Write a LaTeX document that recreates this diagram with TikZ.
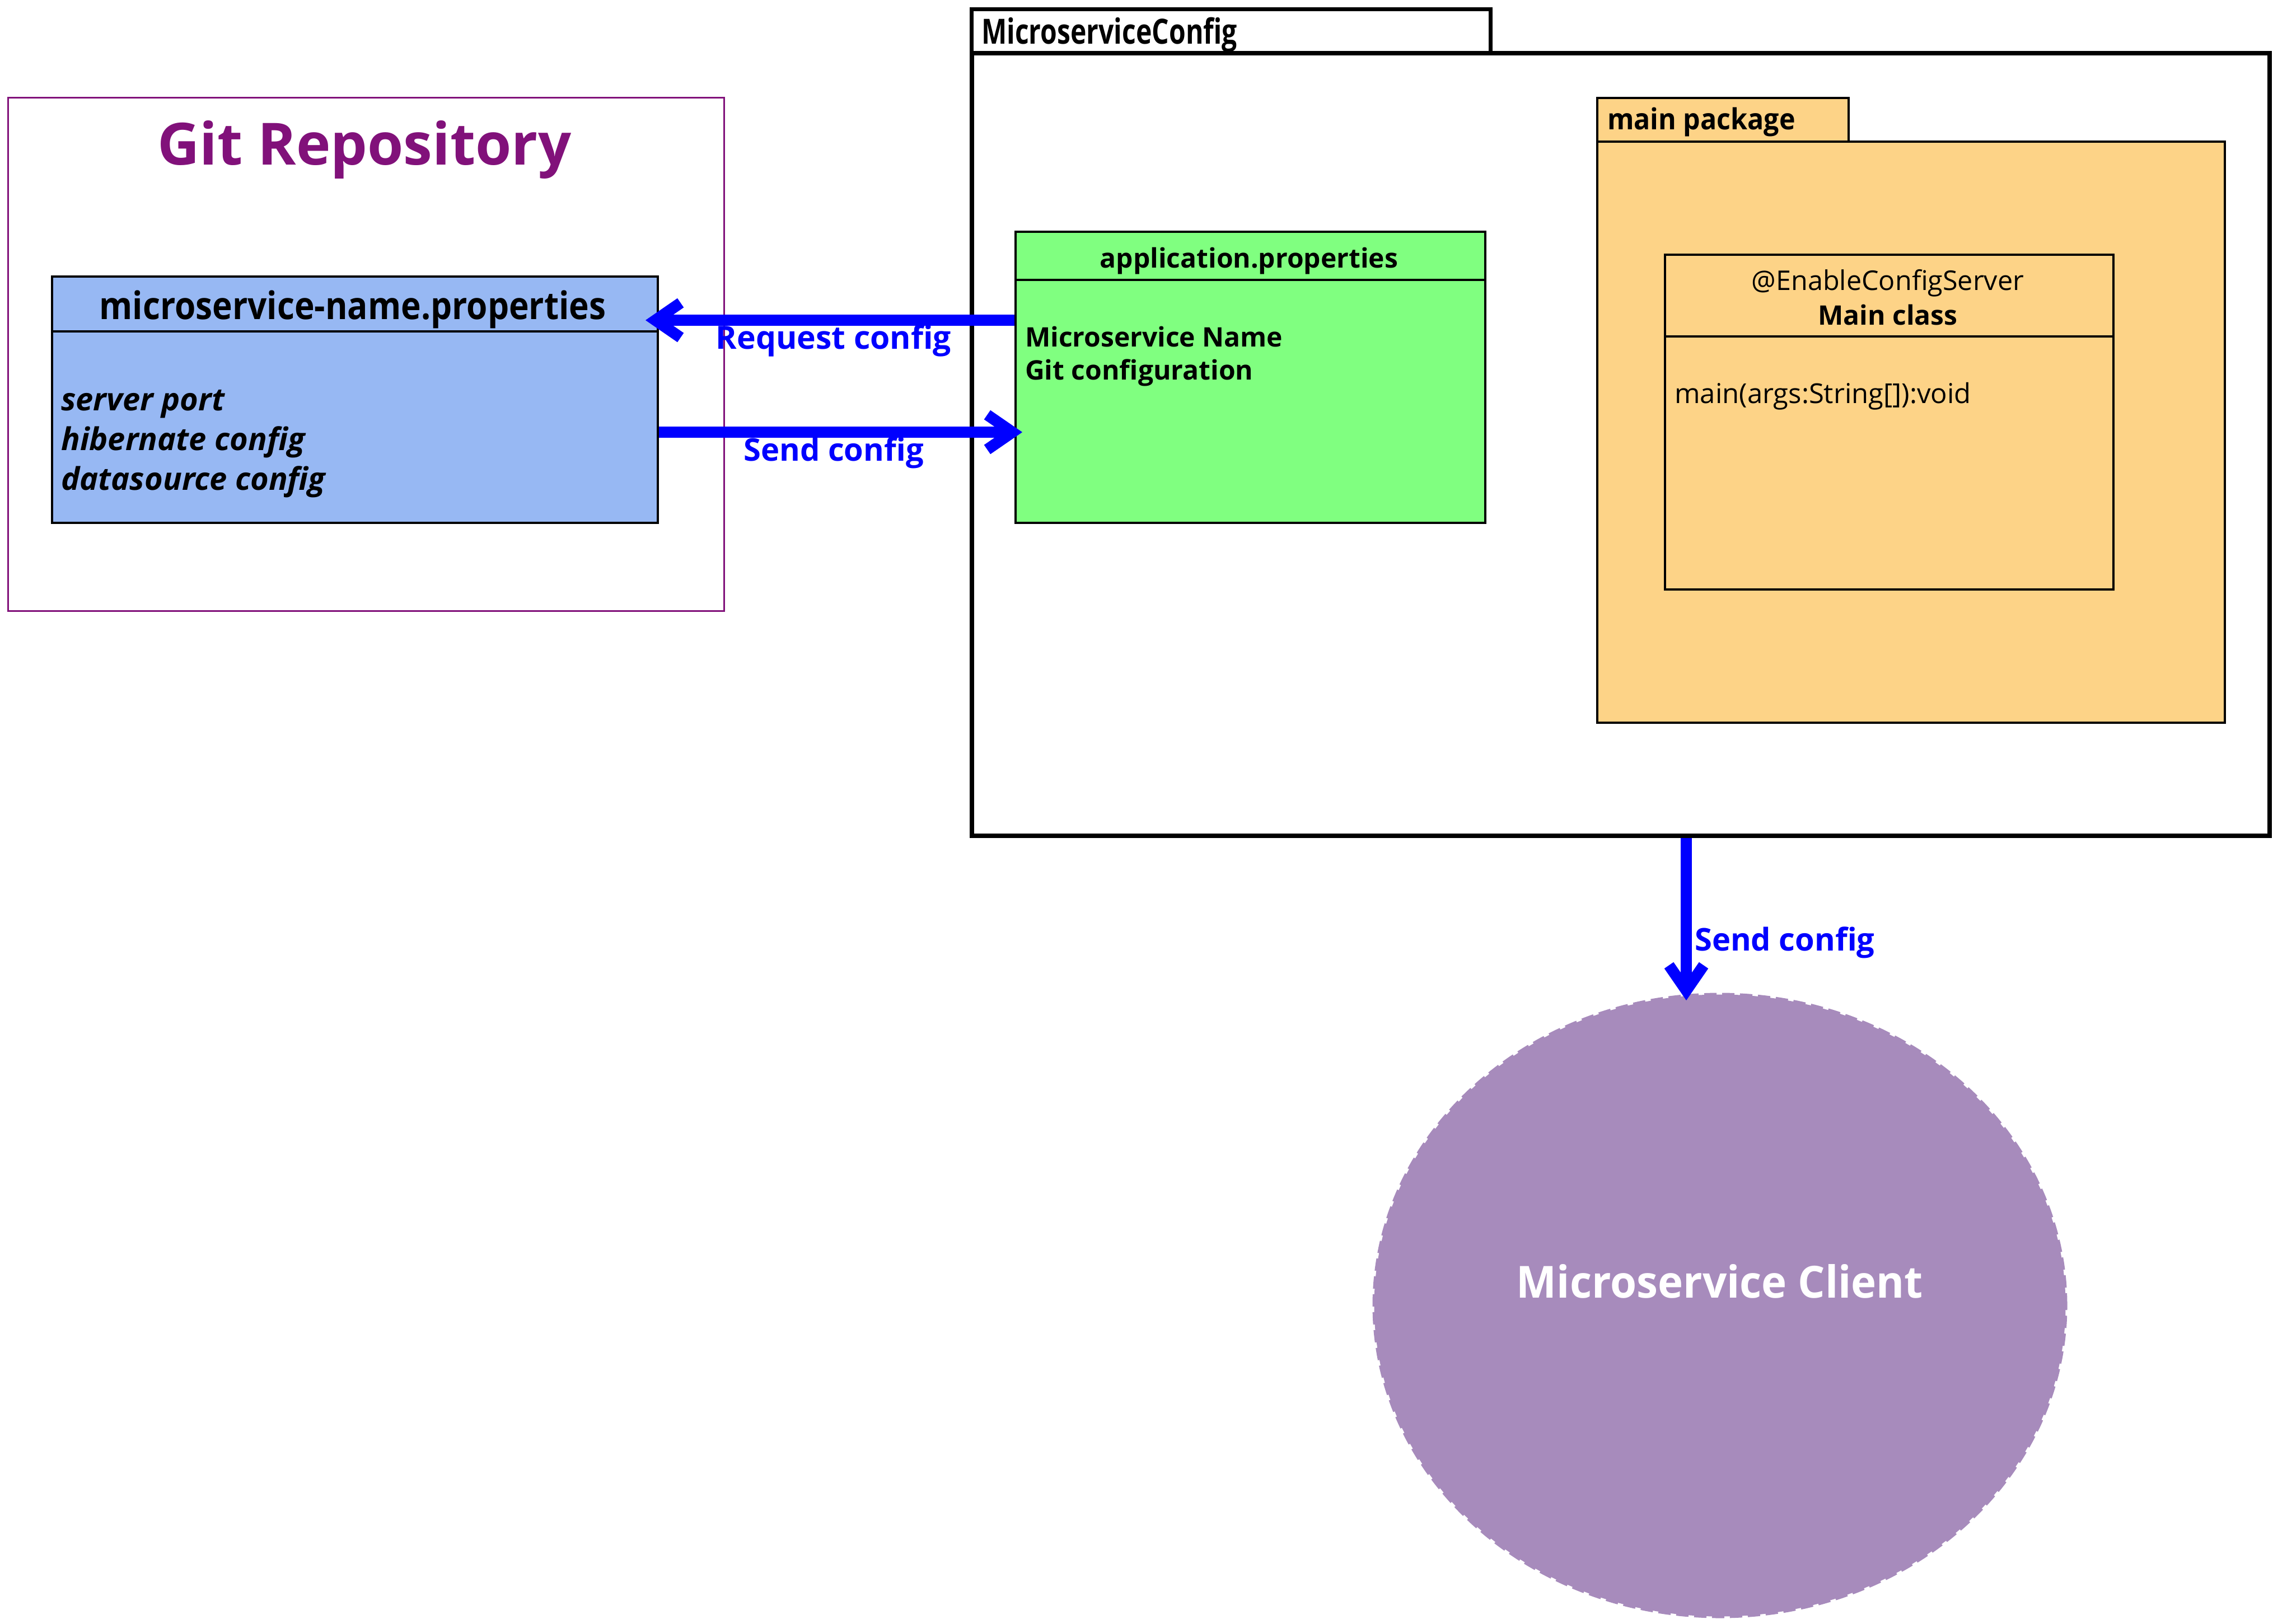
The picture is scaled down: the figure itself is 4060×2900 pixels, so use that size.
\documentclass[tikz,border=0pt]{standalone}
\usepackage{graphicx}
\usepackage{fontspec}
\IfFontExistsTF{Noto Sans Bold}{%
  \setmainfont{Noto Sans}[BoldFont={Noto Sans Bold}]%
}{%
  \IfFontExistsTF{Open Sans Bold}{%
    \setmainfont{Open Sans}[BoldFont={Open Sans Bold}]%
  }{%
    \setmainfont{Noto Sans}[AutoFakeBold=4.5]%
  }%
}
\usetikzlibrary{arrows.meta,shapes.geometric,calc}
\definecolor{gitpurple}{RGB}{129,17,122}
\definecolor{propblue}{RGB}{151,184,243}
\definecolor{appgreen}{RGB}{128,255,128}
\definecolor{pkgorange}{RGB}{253,211,135}
\definecolor{clientpurple}{RGB}{167,139,188}
\definecolor{arrowblue}{RGB}{0,0,255}
\newcommand{\fsz}[1]{\fontsize{#1}{#1}\selectfont}
\begin{document}
\begin{tikzpicture}[x=1pt,y=-1pt,
  box/.style={draw, inner sep=0pt, anchor=north west},
  bigarrow/.style={draw=arrowblue, line width=20pt,
    -{Straight Barb[sharp, length=45pt, width=62pt]}},
  arrowlabel/.style={text=arrowblue, font=\bfseries\fsz{57}, anchor=base, inner sep=0pt},
  txt/.style={inner sep=0pt, anchor=base},
  ltxt/.style={inner sep=0pt, anchor=base west}]
\useasboundingbox (0,0) rectangle (4060,2900);

% Git repository
\node[box, draw=gitpurple, line width=3pt, minimum width=1279pt, minimum height=917pt] (git) at (13,173) {};
\node[txt, text=gitpurple, font=\bfseries\fsz{104}] (gittitle) at (651,294) {Git Repository};

\node[box, line width=4pt, fill=propblue, minimum width=1082pt, minimum height=440pt] (blue) at (91,492) {};
\draw[line width=4pt] ([yshift=-100pt]blue.north west) -- ([yshift=-100pt]blue.north east);
\node[txt, font=\bfseries\fsz{68}] (bluehead) at (630,570) {\scalebox{0.887}[1]{microservice-name.properties}};
\node[ltxt, font=\bfseries\itshape\fsz{56}] (attr1) at (109,733) {server port};
\node[ltxt, font=\bfseries\itshape\fsz{56}] (attr2) at (109,804) {hibernate config};
\node[ltxt, font=\bfseries\itshape\fsz{56}] (attr3) at (109,875) {datasource config};

% MicroserviceConfig package
\node[box, line width=7pt, fill=white, minimum width=927pt, minimum height=78pt] (cfgtab) at (1732,13) {};
\node[box, line width=8pt, fill=white, minimum width=2318pt, minimum height=1398pt] (cfgbody) at (1732,91) {};
\node[ltxt, font=\bfseries\fsz{62}] (cfglabel) at (1753,78) {\scalebox{0.775}[1]{MicroserviceConfig}};

% application.properties
\node[box, line width=4pt, fill=appgreen, minimum width=839pt, minimum height=520pt] (app) at (1812,412) {};
\draw[line width=4pt] ([yshift=-88pt]app.north west) -- ([yshift=-88pt]app.north east);
\node[txt, font=\bfseries\fsz{48}] (apphead) at (2231,478) {application.properties};
\node[ltxt, font=\bfseries\fsz{48}] (app1) at (1831,619) {Microservice Name};
\node[ltxt, font=\bfseries\fsz{48}] (app2) at (1831,678) {Git configuration};

% main package
\node[box, line width=4pt, fill=pkgorange, minimum width=449pt, minimum height=78pt] (maintab) at (2851,173) {};
\node[box, line width=4pt, fill=pkgorange, minimum width=1121pt, minimum height=1038pt] (mainbody) at (2851,251) {};
\node[ltxt, font=\bfseries\fsz{52}] (mainlabel) at (2871,231) {\scalebox{0.93}[1]{main package}};

% Main class
\node[box, line width=4pt, fill=pkgorange, minimum width=801pt, minimum height=598pt] (mainclass) at (2972,453) {};
\draw[line width=4pt] ([yshift=-148pt]mainclass.north west) -- ([yshift=-148pt]mainclass.north east);
\node[txt, font=\fsz{48.5}] (stereo) at (3372,518) {@EnableConfigServer};
\node[txt, font=\bfseries\fsz{48}] (mcname) at (3372,580) {Main class};
\node[ltxt, font=\fsz{49}] (mcop) at (2991,720) {main(args:String[]):void};

% Microservice Client
\node[ellipse, fill=clientpurple, draw=clientpurple, line width=6pt, dash pattern=on 22pt off 10pt,
  minimum width=1235pt, minimum height=1111pt, inner sep=0pt] (client) at (3072,2332) {};
\node[txt, text=white, font=\bfseries\fsz{79}] (clienttext) at (3072,2318) {\scalebox{0.965}[1]{Microservice Client}};

% connectors
\coordinate (reqtip) at (1153,572);
\coordinate (sendtip) at (1826,772);
\coordinate (downtip) at (3012,1787);
\draw[bigarrow] (app.west |- reqtip) -- (reqtip);
\draw[bigarrow] (blue.east |- sendtip) -- (sendtip);
\draw[bigarrow] (cfgbody.south -| downtip) -- (downtip);
\node[arrowlabel] (reqlabel) at (1489,623) {Request config};
\node[arrowlabel, font=\bfseries\fsz{56}] (sendlabel) at (1489,823) {Send config};
\node[arrowlabel, font=\bfseries\fsz{56}, anchor=base west] (downlabel) at (3027,1698) {Send config};
\end{tikzpicture}
\end{document}
